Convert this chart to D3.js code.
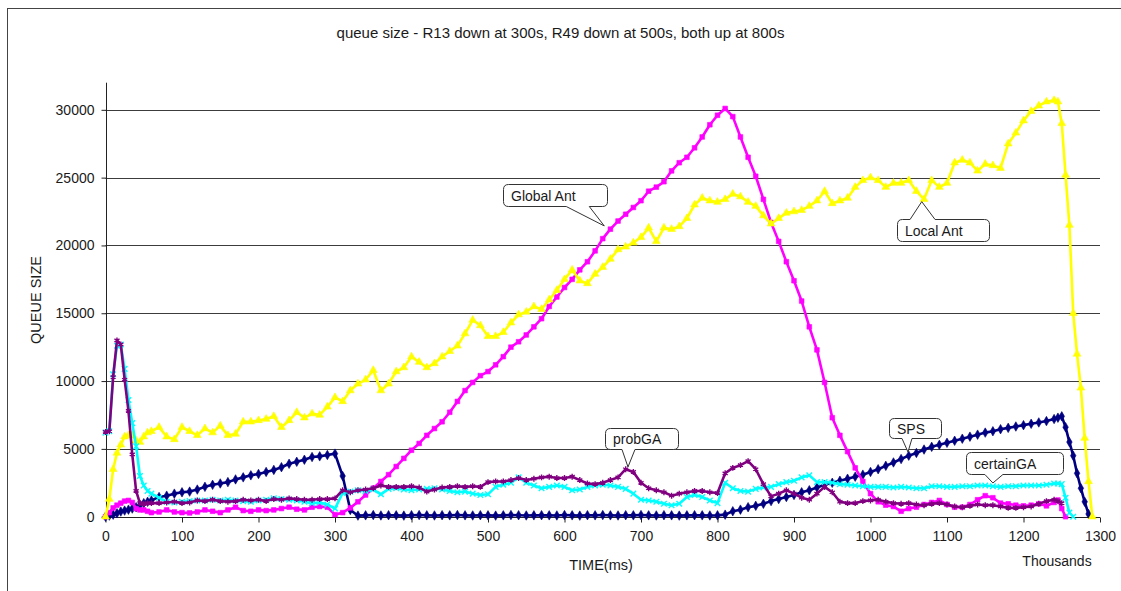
<!DOCTYPE html>
<html>
<head>
<meta charset="utf-8">
<script src="https://cdn.jsdelivr.net/npm/d3@7"></script>
<style>
  html, body { margin: 0; padding: 0; background: #fff; }
  svg { display: block; }
  text { font-family: "Liberation Sans", Arial, sans-serif; fill: #1a1a1a; }
</style>
</head>
<body>
<svg id="chart" width="1121" height="591"></svg>
<script>
// Sample times (thousands of ms)
const time = [
  0, 5, 10, 15, 20, 25, 30, 35, 40, 45, 50, 55, 60,
  70, 80, 90, 100, 110, 120, 130, 140, 150, 160,
  170, 180, 190, 200, 210, 220, 230, 240, 250, 260,
  270, 280, 290, 300, 310, 320, 330, 340, 350, 360,
  370, 380, 390, 400, 410, 420, 430, 440, 450, 460,
  470, 480, 490, 500, 510, 520, 530, 540, 550, 560,
  570, 580, 590, 600, 610, 620, 630, 640, 650, 660,
  670, 680, 690, 700, 710, 720, 730, 740, 750, 760,
  770, 780, 790, 800, 810, 820, 830, 840, 850, 860,
  870, 880, 890, 900, 910, 920, 930, 940, 950, 960,
  970, 980, 990, 1000, 1010, 1020, 1030, 1040, 1050, 1060,
  1070, 1080, 1090, 1100, 1110, 1120, 1130, 1140, 1150, 1160,
  1170, 1180, 1190, 1200, 1210, 1220, 1230, 1240,
  1245, 1250, 1255, 1260, 1265, 1270, 1275, 1280, 1285, 1290
];

const localAnt = [
  0, 1300, 3500, 4700, 5300, 5900, 6000, 6000, 5600, 5500, 5900, 6200, 6300,
  6600, 5900, 5700, 6600, 6300, 6000, 6500, 6200, 6700, 6000,
  6100, 7000, 7000, 7100, 7200, 7400, 6600, 7100, 7700, 7300,
  7600, 7500, 8100, 8800, 8500, 9300, 9800, 10100, 10800, 9300,
  9800, 10700, 11000, 11800, 11400, 11000, 11300, 11800, 12200, 12600,
  13500, 14500, 14100, 13300, 13300, 13600, 14300, 14900, 15100, 15500,
  15300, 16000, 16700, 17500, 18200, 17400, 17200, 17900, 18400, 19000,
  19700, 19900, 20200, 20600, 21300, 20300, 21300, 21200, 21400, 22000,
  23000, 23500, 23300, 23200, 23400, 23800, 23600, 23200, 22900, 22200,
  21600, 22000, 22400, 22500, 22600, 22900, 23300, 24000, 23100, 23300,
  23500, 24300, 24800, 25000, 24800, 24300, 24600, 24600, 24800, 24000,
  23400, 24800, 24300, 24600, 26100, 26300, 26100, 25500, 26000, 25900,
  25700, 27500, 28300, 29200, 29900, 30300, 30600, 30700,
  30600, 29000, 25200, 21500, 15000, 12000, 9500, 5800, 2600, 0
];

const globalAnt = [
  0, 300, 650, 850, 1000, 1150, 1200, 1050, 600, 500, 500, 400, 300,
  350, 500, 350, 300, 280, 350, 500, 400, 300, 500,
  700, 450, 400, 500, 450, 500, 600, 700, 550, 500,
  700, 750, 700, 150, 300, 650, 1100, 1600, 2100, 2600,
  3100, 3700, 4300, 4900, 5400, 6000, 6500, 7000, 7700, 8500,
  9300, 9900, 10400, 10700, 11200, 11800, 12500, 12900, 13400, 14000,
  14600, 15500, 16200, 16900, 17500, 18200, 18800, 19600, 20500, 21200,
  21800, 22300, 22800, 23300, 24000, 24300, 24700, 25500, 26100, 26500,
  27200, 28000, 28900, 29600, 30100, 29500, 28000, 26500, 25100, 23400,
  21700, 20300, 18800, 17400, 15900, 14000, 12300, 9900, 7300, 6000,
  4800, 3600, 2600, 1700, 1100, 850, 750, 400, 600, 700,
  900, 1050, 1200, 900, 700, 700, 900, 1250, 1550, 1400,
  1000, 950, 850, 800, 850, 950, 800, 1050,
  1230, 600, 0, null, null, null, null, null, null, null
];

const sps = [
  0, 80, 150, 250, 380, 450, 520, 600, 700, 850, 1000, 1100, 1200,
  1450, 1550, 1700, 1800, 1850, 2000, 2200, 2350, 2450, 2550,
  2750, 2900, 3050, 3150, 3300, 3450, 3650, 3900, 4050, 4200,
  4400, 4450, 4550, 4650, 3000, 500, 80, 100, 120, 90,
  110, 100, 80, 110, 120, 100, 90, 110, 100, 120,
  100, 90, 110, 100, 80, 100, 120, 110, 90, 100,
  110, 100, 90, 120, 100, 80, 110, 100, 120, 100,
  90, 110, 100, 120, 100, 90, 110, 100, 80, 100,
  110, 100, 90, 100, 150, 400, 520, 700, 800, 950,
  1150, 1300, 1450, 1600, 1800, 1950, 2150, 2350, 2500, 2650,
  2800, 2950, 3100, 3300, 3500, 3750, 4000, 4250, 4500, 4700,
  4950, 5150, 5300, 5450, 5600, 5750, 5900, 6050, 6200, 6300,
  6450, 6550, 6650, 6750, 6850, 6950, 7050, 7200,
  7300, 7400, 6600, 5500, 4500, 3200, 2100, 1100, 200, null
];

const probGA = [
  6250, 6300, 10300, 13000, 12700, 10100, 7800, 4600, 1900, 1000, 950, 1000, 1000,
  1000, 1050, 1100, 1000, 1050, 1200, 1150, 1250, 1150, 1100,
  1150, 1250, 1200, 1250, 1150, 1300, 1250, 1350, 1300, 1250,
  1250, 1300, 1300, 1350, 1950, 1800, 1950, 2000, 2100, 2300,
  2200, 2200, 2200, 2250, 2150, 1850, 2000, 2150, 2200, 2250,
  2200, 2250, 2200, 2550, 2600, 2600, 2700, 2850, 2700, 2800,
  2900, 2950, 2850, 2850, 2950, 2700, 2450, 2400, 2500, 2700,
  2900, 3500, 3300, 2500, 2100, 1950, 1800, 1550, 1700, 1800,
  1900, 1900, 1800, 1750, 3200, 3600, 3800, 4100, 3500, 2400,
  1500, 1700, 1950, 1700, 1400, 1250, 1700, 2200, 1800, 1100,
  1000, 1000, 1150, 1200, 1250, 1100, 1000, 950, 1000, 900,
  850, 950, 1000, 900, 750, 700, 800, 900, 850, 850,
  750, 650, 650, 700, 750, 950, 1150, 1250,
  1150, 1000, null, null, null, null, null, null, null, null
];

const certainGA = [
  6200, 6300, 10500, 12600, 12700, 10900, 8600, 6900, 5200, 3000, 2300, 1900, 1700,
  1400, 1100, 1050, 1100, 1150, 1200, 1200, 1250, 1200, 1250,
  1200, 1150, 1100, 1200, 1250, 1350, 1300, 1250, 1200, 1100,
  1000, 1050, 900, 600, 1750, 1850, 1950, 1900, 2000, 1650,
  2050, 2100, 2000, 1950, 2000, 2050, 2100, 2000, 1900, 1800,
  1850, 1700, 1600, 1650, 2200, 2350, 2500, 2900, 2500, 2300,
  2100, 2200, 2300, 2200, 1950, 2000, 2200, 2300, 2350, 2300,
  2200, 2050, 1700, 1250, 1200, 1100, 950, 850, 950, 1450,
  1600, 1450, 1200, 1000, 2500, 2100, 1900, 1850, 2050, 2150,
  2200, 2400, 2550, 2650, 2900, 3050, 2550, 2550, 2500, 2400,
  2350, 2300, 2250, 2200, 2200, 2200, 2150, 2200, 2150, 2100,
  2100, 2250, 2250, 2200, 2200, 2250, 2250, 2300, 2300, 2250,
  2200, 2250, 2250, 2300, 2300, 2300, 2350, 2450,
  2450, 2400, 1400, 300, 0, null, null, null, null, null
];

const xTicks = [0, 100, 200, 300, 400, 500, 600, 700, 800, 900, 1000, 1100, 1200, 1300];
const yTicks = [0, 5000, 10000, 15000, 20000, 25000, 30000];

const titleText = "queue size - R13 down at 300s, R49 down at 500s, both up at 800s";
const xTitle = "TIME(ms)";
const xUnit = "Thousands";
const yTitle = "QUEUE SIZE";

// Callout labels and the data point each one points at
const calloutLabels = ["Global Ant", "Local Ant", "probGA", "SPS", "certainGA"];
const calloutTime = [652, 1067, 683, 1049, 1160];
const calloutSize = [21440, 23230, 3665, 4770, 2485];

// ---- drawing ----
const svg = d3.select("#chart");
const plot = { left: 105.5, right: 1100, top: 82.7, bottom: 516.7 };
const FONT = '"Liberation Sans", Arial, sans-serif';

const x = d3.scaleLinear().domain([0, 1300]).range([plot.left, plot.right]);
const y = d3.scaleLinear().domain([0, 32000]).range([plot.bottom, plot.top]);

// outer chart frame
svg.append("rect")
  .attr("x", 7.5).attr("y", 8.5)
  .attr("width", 1300).attr("height", 800)
  .attr("fill", "#fff").attr("stroke", "#444").attr("stroke-width", 1);

// title
svg.append("text")
  .attr("x", 560.5).attr("y", 38)
  .attr("text-anchor", "middle")
  .style("font-size", "15px")
  .text(titleText);

// horizontal gridlines
svg.append("g")
  .selectAll("line")
  .data(yTicks.filter(d => d > 0))
  .join("line")
  .attr("x1", plot.left).attr("x2", plot.right)
  .attr("y1", d => Math.round(y(d)) + 0.5).attr("y2", d => Math.round(y(d)) + 0.5)
  .attr("stroke", "#3c3c3c").attr("stroke-width", 1);

// y axis
const yAxis = svg.append("g")
  .attr("transform", `translate(${Math.round(plot.left) + 0.5},0)`)
  .call(d3.axisLeft(y).tickValues(yTicks).tickSize(5).tickPadding(7).tickFormat(d3.format("d")));
yAxis.select(".domain").attr("d", `M0,${plot.top}V${plot.bottom}`).attr("stroke", "#222");
yAxis.selectAll(".tick line").attr("stroke", "#222");
yAxis.selectAll(".tick text")
  .style("font-size", "14px")
  .style("font-family", FONT)
  .attr("fill", "#1a1a1a");

// x axis
const xAxis = svg.append("g")
  .attr("transform", `translate(0,${Math.round(plot.bottom) + 0.5})`)
  .call(d3.axisBottom(x).tickValues(xTicks).tickSize(5).tickPadding(9).tickFormat(d3.format("d")));
xAxis.select(".domain").attr("d", `M${plot.left},0H${plot.right}`).attr("stroke", "#222");
xAxis.selectAll(".tick line").attr("stroke", "#222");
xAxis.selectAll(".tick text")
  .style("font-size", "14px")
  .style("font-family", FONT)
  .attr("fill", "#1a1a1a");

// axis titles
svg.append("text")
  .attr("x", 601).attr("y", 570)
  .attr("text-anchor", "middle")
  .style("font-size", "14.5px")
  .text(xTitle);
svg.append("text")
  .attr("x", 1057).attr("y", 566)
  .attr("text-anchor", "middle")
  .style("font-size", "14px")
  .text(xUnit);
svg.append("text")
  .attr("transform", "translate(40.5,300) rotate(-90)")
  .attr("text-anchor", "middle")
  .style("font-size", "14.5px")
  .text(yTitle);

// series
const symTimes = d3.symbolTimes || d3.symbolCross;
const symStar = d3.symbolAsterisk || d3.symbolCross;
const series = [
  { key: "sps", values: sps, color: "#000080", symbol: d3.symbolDiamond, size: 26, filled: true },
  { key: "globalAnt", values: globalAnt, color: "#ff00ff", symbol: d3.symbolSquare, size: 22, filled: true },
  { key: "localAnt", values: localAnt, color: "#ffff00", symbol: d3.symbolTriangle, size: 26, filled: true },
  { key: "certainGA", values: certainGA, color: "#00ffff", symbol: symTimes, size: 22, filled: false },
  { key: "probGA", values: probGA, color: "#800080", symbol: symStar, size: 24, filled: false }
];

const line = d3.line()
  .defined(d => d[1] !== null && d[1] !== undefined)
  .x(d => x(d[0]))
  .y(d => y(d[1]));

const seriesG = svg.append("g");
series.forEach(s => {
  const pts = time.map((t, i) => [t, s.values[i]]);
  const g = seriesG.append("g").attr("class", s.key);
  g.append("path")
    .datum(pts)
    .attr("d", line)
    .attr("fill", "none")
    .attr("stroke", s.color)
    .attr("stroke-width", 2.6)
    .attr("stroke-linejoin", "round");
  const sym = d3.symbol().type(s.symbol).size(s.size);
  g.selectAll("path.m")
    .data(pts.filter(p => p[1] !== null && p[1] !== undefined))
    .join("path")
    .attr("class", "m")
    .attr("transform", p => `translate(${x(p[0])},${y(p[1])})`)
    .attr("d", sym)
    .attr("fill", s.filled ? s.color : "none")
    .attr("stroke", s.color)
    .attr("stroke-width", s.filled ? 0.6 : 1.4);
});

// callout boxes (pixel geometry relative to the pointed-at point)
const calloutGeom = {
  "Global Ant": { dx: -101.5, dy: -41.5, w: 104, h: 22, side: "bottom", b1: -38, b2: -15 },
  "Local Ant":  { dx: -24.7, dy: 17.3, w: 92, h: 22, side: "top", b1: -11.7, b2: 13.3 },
  "probGA":     { dx: -23, dy: -39, w: 73, h: 21, side: "bottom", b1: -6, b2: 7 },
  "SPS":        { dx: -19, dy: -34, w: 52, h: 20, side: "bottom", b1: -6, b2: 4 },
  "certainGA":  { dx: -27, dy: -31, w: 97, h: 22, side: "bottom", b1: -8, b2: 10 }
};

function calloutPath(bx, by, w, h, r, side, b1, b2, tx, ty) {
  const p = d3.path();
  p.moveTo(bx + r, by);
  if (side === "top") { p.lineTo(b1, by); p.lineTo(tx, ty); p.lineTo(b2, by); }
  p.lineTo(bx + w - r, by);
  p.quadraticCurveTo(bx + w, by, bx + w, by + r);
  p.lineTo(bx + w, by + h - r);
  p.quadraticCurveTo(bx + w, by + h, bx + w - r, by + h);
  if (side === "bottom") { p.lineTo(b2, by + h); p.lineTo(tx, ty); p.lineTo(b1, by + h); }
  p.lineTo(bx + r, by + h);
  p.quadraticCurveTo(bx, by + h, bx, by + h - r);
  p.lineTo(bx, by + r);
  p.quadraticCurveTo(bx, by, bx + r, by);
  p.closePath();
  return p.toString();
}

const calloutG = svg.append("g");
calloutLabels.forEach((label, i) => {
  const g = calloutGeom[label];
  const tx = x(calloutTime[i]), ty = y(calloutSize[i]);
  const bx = Math.round(tx + g.dx) + 0.5, by = Math.round(ty + g.dy) + 0.5;
  calloutG.append("path")
    .attr("d", calloutPath(bx, by, g.w, g.h, 5, g.side, tx + g.b1, tx + g.b2, tx, ty))
    .attr("fill", "#fff")
    .attr("stroke", "#333")
    .attr("stroke-width", 1);
  calloutG.append("text")
    .attr("x", bx + 7.5)
    .attr("y", by + g.h / 2 + 5)
    .style("font-size", "14px")
    .text(label);
});
</script>
</body>
</html>
